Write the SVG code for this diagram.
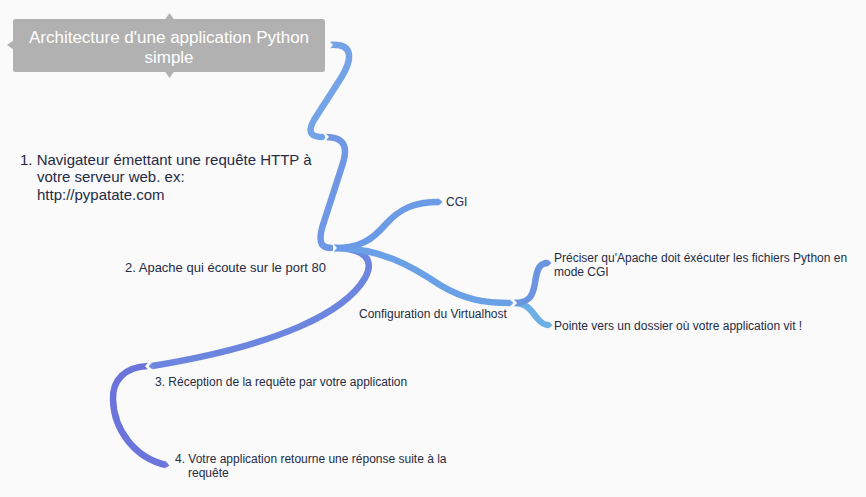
<svg xmlns="http://www.w3.org/2000/svg" width="866" height="497" viewBox="0 0 866 497">
<style>
  .t { font-family: "Liberation Sans", Arial, sans-serif; fill: #252b45; }
  .s12 { font-size: 12px; }
  .s13 { font-size: 13px; }
  .s15 { font-size: 15px; }
  .title { font-family: "Liberation Sans", Arial, sans-serif; font-size: 17px; fill: #ffffff; text-anchor: middle; }
  .c { fill: none; stroke-width: 6.5; stroke-linecap: butt; }
</style>
<defs>
  <marker id="notch" viewBox="-2 -5 8 10" markerWidth="8" markerHeight="10" refX="0" refY="0" orient="auto" markerUnits="userSpaceOnUse">
    <path d="M-1,-4.5 L3,0 L-1,4.5 Z" fill="#fafafa"/>
  </marker>
  <marker id="tA" viewBox="-1 -4 6 8" markerWidth="6" markerHeight="8" refX="0" refY="0" orient="auto" markerUnits="userSpaceOnUse"><path d="M0,-3.2 L3.5,0 L0,3.2 Z" fill="#74a3e8"/></marker>
  <marker id="tB" viewBox="-1 -4 6 8" markerWidth="6" markerHeight="8" refX="0" refY="0" orient="auto" markerUnits="userSpaceOnUse"><path d="M0,-3.2 L3.5,0 L0,3.2 Z" fill="#6f97e3"/></marker>
  <marker id="tC" viewBox="-1 -4 6 8" markerWidth="6" markerHeight="8" refX="0" refY="0" orient="auto" markerUnits="userSpaceOnUse"><path d="M0,-3.2 L3.5,0 L0,3.2 Z" fill="#6b9be6"/></marker>
  <marker id="tD" viewBox="-1 -4 6 8" markerWidth="6" markerHeight="8" refX="0" refY="0" orient="auto" markerUnits="userSpaceOnUse"><path d="M0,-3.2 L3.5,0 L0,3.2 Z" fill="#6aa0e6"/></marker>
  <marker id="tE" viewBox="-1 -4 6 8" markerWidth="6" markerHeight="8" refX="0" refY="0" orient="auto" markerUnits="userSpaceOnUse"><path d="M0,-3.2 L3.5,0 L0,3.2 Z" fill="#6c86df"/></marker>
  <marker id="tF" viewBox="-1 -4 6 8" markerWidth="6" markerHeight="8" refX="0" refY="0" orient="auto" markerUnits="userSpaceOnUse"><path d="M0,-3.2 L3.5,0 L0,3.2 Z" fill="#6a74db"/></marker>
  <marker id="tG" viewBox="-1 -4 6 8" markerWidth="6" markerHeight="8" refX="0" refY="0" orient="auto" markerUnits="userSpaceOnUse"><path d="M0,-3.2 L3.5,0 L0,3.2 Z" fill="#6c95e0"/></marker>
  <marker id="tH" viewBox="-1 -4 6 8" markerWidth="6" markerHeight="8" refX="0" refY="0" orient="auto" markerUnits="userSpaceOnUse"><path d="M0,-3.2 L3.5,0 L0,3.2 Z" fill="#6cb0e6"/></marker>
</defs>
<rect x="0" y="0" width="866" height="497" fill="#fafafa"/>

<g id="connectors">
  <path class="c" stroke="#74a3e8" marker-end="url(#tA)" marker-start="url(#notch)" d="M330,45 C356,43 351,62 341,78 L314,120 C306,134 313,137 323,137"/>
  <path class="c" stroke="#6f97e3" marker-end="url(#tB)" marker-start="url(#notch)" d="M326,137 C347,137 347,150 343,163 L322,228 C318,244 322,248 332,248"/>
  <path class="c" stroke="#6c86df" marker-end="url(#tE)" d="M334,248 C365,248 375,260 365,278 C345,312 280,345 152,366"/>
  <path class="c" stroke="#6aa0e6" marker-end="url(#tD)" d="M334,248 C380,248 410,265 440,285 C465,300 485,303 510,303"/>
  <path class="c" stroke="#6b9be6" marker-end="url(#tC)" marker-start="url(#notch)" d="M334,248 C360,248 372,240 385,225 C400,208 415,202 439,202"/>
  <path class="c" stroke="#6a74db" marker-end="url(#tF)" marker-start="url(#notch)" d="M148,366 C125,367 112,380 113,400 C114,430 135,458 166,465"/>
  <path class="c" stroke="#6cb0e6" marker-end="url(#tH)" d="M514,303 C528,303 532,312 537,318 C542,324 545,325 549,325"/>
  <path class="c" stroke="#6c95e0" marker-end="url(#tG)" marker-start="url(#notch)" d="M514,303 C530,303 533,295 535,283 C537,268 540,263 548,263"/>
</g>

<g id="title">
  <rect x="13" y="19" width="312" height="53" rx="2.5" fill="#b1b1b1"/>
  <path d="M165,19.5 L169.5,13 L174,19.5 Z" fill="#b1b1b1"/>
  <path d="M165,71.5 L169.5,78 L174,71.5 Z" fill="#b1b1b1"/>
  <path d="M13.5,40.5 L7,45 L13.5,49.5 Z" fill="#b1b1b1"/>
  <text class="title" x="169" y="43">Architecture d'une application Python</text>
  <text class="title" x="169" y="63">simple</text>
</g>

<g id="node1">
  <text class="t s15" x="20" y="165">1. Navigateur émettant une requête HTTP à</text>
  <text class="t s15" x="37" y="182">votre serveur web. ex:</text>
  <text class="t s15" x="37" y="200">http://pypatate.com</text>
</g>

<g id="node2">
  <text class="t s13" x="125" y="272">2. Apache qui écoute sur le port 80</text>
</g>

<g id="cgi">
  <text class="t s12" x="446" y="206">CGI</text>
</g>

<g id="vhost">
  <text class="t s12" x="359" y="318">Configuration du Virtualhost</text>
</g>

<g id="preciser">
  <text class="t s12" x="554" y="262">Préciser qu'Apache doit éxécuter les fichiers Python en</text>
  <text class="t s12" x="554" y="276">mode CGI</text>
</g>

<g id="pointe">
  <text class="t s12" x="554" y="330">Pointe vers un dossier où votre application vit !</text>
</g>

<g id="node3">
  <text class="t s12" x="155" y="386">3. Réception de la requête par votre application</text>
</g>

<g id="node4">
  <text class="t s12" x="175" y="463">4. Votre application retourne une réponse suite à la</text>
  <text class="t s12" x="188" y="477">requête</text>
</g>
</svg>
